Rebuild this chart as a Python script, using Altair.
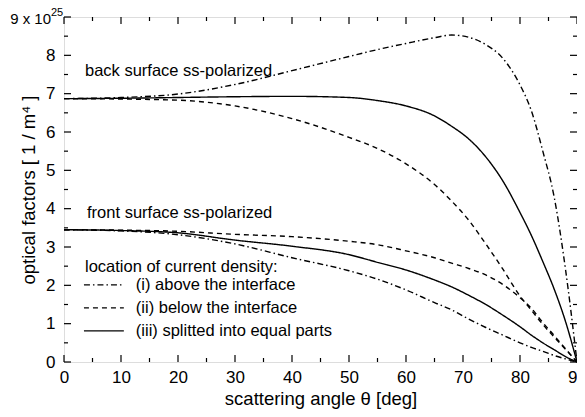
import altair as alt
import pandas as pd

# ---------------- data ----------------
angles = [0, 10, 20, 30, 40, 50, 55, 60, 65, 68, 71, 74, 77, 80, 82, 84, 86, 88, 90]

back_i   = [6.87, 6.90, 6.99, 7.24, 7.60, 7.97, 8.15, 8.31, 8.46, 8.53, 8.47, 8.28, 7.92, 7.23, 6.55, 5.50, 4.30, 2.40, 0.0]
back_ii  = [6.87, 6.86, 6.83, 6.68, 6.35, 5.86, 5.57, 5.17, 4.63, 4.20, 3.70, 3.08, 2.42, 1.72, 1.35, 0.98, 0.65, 0.33, 0.0]
back_iii = [6.87, 6.88, 6.90, 6.92, 6.93, 6.90, 6.82, 6.68, 6.42, 6.15, 5.82, 5.35, 4.72, 3.90, 3.30, 2.62, 1.90, 1.05, 0.0]

front_i   = [3.45, 3.42, 3.32, 3.08, 2.72, 2.38, 2.16, 1.88, 1.55, 1.36, 1.12, 0.90, 0.70, 0.50, 0.38, 0.28, 0.17, 0.08, 0.0]
front_ii  = [3.45, 3.44, 3.41, 3.33, 3.27, 3.15, 3.06, 2.90, 2.72, 2.58, 2.44, 2.27, 2.02, 1.68, 1.40, 1.03, 0.69, 0.34, 0.0]
front_iii = [3.45, 3.43, 3.37, 3.18, 3.02, 2.80, 2.60, 2.40, 2.14, 1.96, 1.74, 1.50, 1.22, 0.92, 0.70, 0.50, 0.32, 0.14, 0.0]

series_keys = ["i", "ii", "iii"]
legend_labels = ["(i) above the interface", "(ii) below the interface",
                 "(iii) splitted into equal parts"]
legend_title = "location of current density:"
annotations = ["back surface ss-polarized", "front surface ss-polarized"]

x_major = [0, 10, 20, 30, 40, 50, 60, 70, 80, 90]
x_minor = [5, 15, 25, 35, 45, 55, 65, 75, 85]
y_major = [0, 1, 2, 3, 4, 5, 6, 7, 8, 9]
y_minor = [0.5, 1.5, 2.5, 3.5, 4.5, 5.5, 6.5, 7.5, 8.5]

# ---------------- build tables ----------------
rows = []
for surf, sets in (("back", (back_i, back_ii, back_iii)),
                   ("front", (front_i, front_ii, front_iii))):
    for key, vals in zip(series_keys, sets):
        for a, v in zip(angles, vals):
            rows.append({"x": a, "y": v, "series": key, "surface": surf})
curves = pd.DataFrame(rows)

FONT = "Liberation Sans"
X0, X1, Y0, Y1 = 0, 90, 0, 9
PLOT_W, PLOT_H = 513, 345
px_x = (X1 - X0) / PLOT_W
px_y = (Y1 - Y0) / PLOT_H
MAJ, MIN = 7, 4

trows = []
for t in x_major + x_minor:
    L = MAJ if t in x_major else MIN
    trows.append({"x": t, "x2": t, "y": Y0, "y2": Y0 + L * px_y})
    trows.append({"x": t, "x2": t, "y": Y1, "y2": Y1 - L * px_y})
for t in y_major + y_minor:
    L = MAJ if t in y_major else MIN
    trows.append({"x": X0, "x2": X0 + L * px_x, "y": t, "y2": t})
    trows.append({"x": X1, "x2": X1 - L * px_x, "y": t, "y2": t})
ticks_df = pd.DataFrame(trows)

dash_scale = alt.Scale(domain=series_keys,
                       range=[[6, 3, 1.5, 3], [5, 4], [1, 0]])

xs = alt.Scale(domain=[X0, X1], nice=False, zero=False)
ys = alt.Scale(domain=[Y0, Y1], nice=False, zero=False)

x_axis = alt.Axis(
    values=x_major, title="scattering angle θ [deg]", ticks=False,
    domain=False, grid=False, labelPadding=7, titlePadding=4,
    labelFontSize=17, titleFontSize=18.5, titleFontWeight="normal",
    labelFont=FONT, titleFont=FONT, labelColor="black", titleColor="black",
    labelFlush=False, labelOverlap=False)
y_axis = alt.Axis(
    values=y_major[:-1], title="optical factors [ 1 / m⁴ ]", ticks=False,
    domain=False, grid=False, labelPadding=9, titlePadding=7,
    labelFontSize=17, titleFontSize=18.5, titleFontWeight="normal",
    labelFont=FONT, titleFont=FONT, labelColor="black", titleColor="black",
    labelFlush=False, labelOverlap=False)


def X(field):
    return alt.X(field, type="quantitative", scale=xs, axis=x_axis)


def Y(field):
    return alt.Y(field, type="quantitative", scale=ys, axis=y_axis)


lines = alt.Chart(curves).mark_line(
    color="black", strokeWidth=1.4, interpolate="monotone"
).encode(
    x=X("x"), y=Y("y"),
    strokeDash=alt.StrokeDash("series:N", scale=dash_scale, legend=None),
    detail="surface:N",
)

tick_marks = alt.Chart(ticks_df).mark_rule(color="black", strokeWidth=1.2).encode(
    x=X("x"), x2="x2:Q", y=Y("y"), y2="y2:Q",
)

# top-left exponent label
top_lab = pd.DataFrame({"x": [X0], "y": [Y1], "t": ["9 x 10"], "e": ["25"]})
lab_main = alt.Chart(top_lab).mark_text(
    align="right", baseline="middle", dx=-13, dy=2, fontSize=15, font=FONT, color="black"
).encode(x=X("x"), y=Y("y"), text="t:N")
lab_exp = alt.Chart(top_lab).mark_text(
    align="left", baseline="middle", dx=-13, dy=-4, fontSize=11, font=FONT, color="black"
).encode(x=X("x"), y=Y("y"), text="e:N")

# annotations
ann_df = pd.DataFrame({"x": [3.68, 4.04], "y": [7.59, 3.89], "t": annotations})
ann = alt.Chart(ann_df).mark_text(
    align="left", baseline="middle", fontSize=16.5, font=FONT, color="black"
).encode(x=X("x"), y=Y("y"), text="t:N")

# legend (drawn inside the plot)
leg_rows_y = [2.01, 1.41, 0.81]
leg_title_y = 2.48
leg_df = pd.DataFrame({"series": series_keys, "label": legend_labels, "y": leg_rows_y})
leg_df["xa"] = 3.5
leg_df["xb"] = 10.5
leg_df["xt"] = 12.6
leg_lines = alt.Chart(leg_df).mark_rule(color="black", strokeWidth=1.3).encode(
    x=X("xa"), x2="xb:Q", y=Y("y"),
    strokeDash=alt.StrokeDash("series:N", scale=dash_scale, legend=None),
)
leg_text = alt.Chart(leg_df).mark_text(
    align="left", baseline="middle", fontSize=16.5, font=FONT, color="black"
).encode(x=X("xt"), y=Y("y"), text="label:N")
leg_t_df = pd.DataFrame({"x": [3.68], "y": [leg_title_y], "t": [legend_title]})
leg_title = alt.Chart(leg_t_df).mark_text(
    align="left", baseline="middle", fontSize=16.5, font=FONT, color="black"
).encode(x=X("x"), y=Y("y"), text="t:N")

chart = alt.layer(
    lines, tick_marks, lab_main, lab_exp, ann, leg_lines, leg_text, leg_title
).properties(
    width=PLOT_W, height=PLOT_H,
    autosize=alt.AutoSizeParams(type="none"),
    padding={"left": 56, "top": 9, "right": 0, "bottom": 47},
).configure_view(
    stroke="black", strokeWidth=1.4
).configure(background="white")

chart.save("out.html", embed_options={"renderer": "svg", "actions": False})
